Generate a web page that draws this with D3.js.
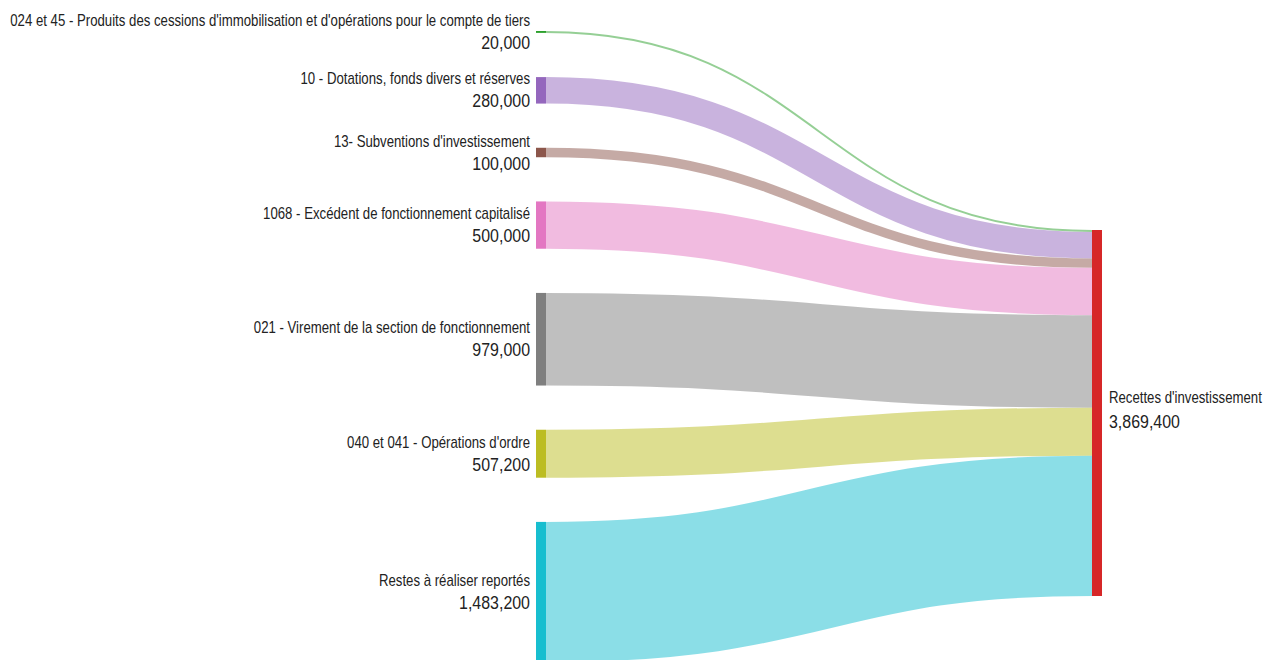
<!DOCTYPE html>
<html>
<head>
<meta charset="utf-8">
<script src="https://cdn.jsdelivr.net/npm/d3@7"></script>
<style>
  body { margin: 0; background: #fff; }
  text { font-family: "Liberation Sans", Arial, sans-serif; fill: #222; }
</style>
</head>
<body>
<div id="root"></div>
<script>
// Sources of the "Recettes d'investissement" budget
const sourceNames = [
  "024 et 45 - Produits des cessions d'immobilisation et d'opérations pour le compte de tiers",
  "10 - Dotations, fonds divers et réserves",
  "13- Subventions d'investissement",
  "1068 - Excédent de fonctionnement capitalisé",
  "021 - Virement de la section de fonctionnement",
  "040 et 041 - Opérations d'ordre",
  "Restes à réaliser reportés"
];
const sourceValues = [20000, 280000, 100000, 500000, 979000, 507200, 1483200];
const sourceColors = ["#2ca02c", "#9467bd", "#8c564b", "#e377c2", "#7f7f7f", "#bcbd22", "#17becf"];

const targetName = "Recettes d'investissement";
const targetColor = "#d62728";

const width = 1270;
const height = 660;

// layout
const leftX = 536;
const rightX = 1092;
const nodeWidth = 10;
const leftTop = 31;
const nodeGap = 44.2;
const rightTop = 230;
const total = d3.sum(sourceValues);

// the original uses a narrow font, emulate it by squeezing the text
const nameSqueeze = 0.825;
const valueSqueeze = 0.84;

const fmt = d3.format(",");

const yScale = d3.scaleLinear().domain([0, total]).range([0, 366]);

// build the nodes and links from the arrays
let yCursor = leftTop;
let tCursor = rightTop;
const sources = sourceNames.map((name, i) => {
  const h = yScale(sourceValues[i]);
  const node = {
    name,
    value: sourceValues[i],
    color: sourceColors[i],
    y0: yCursor,
    y1: yCursor + h,
    ty0: tCursor,
    ty1: tCursor + h
  };
  yCursor += h + nodeGap;
  tCursor += h;
  return node;
});
const target = { name: targetName, value: total, color: targetColor, y0: rightTop, y1: rightTop + yScale(total) };

const svg = d3
  .select("#root")
  .append("svg")
  .attr("width", width)
  .attr("height", height);

const link = d3
  .linkHorizontal()
  .source((d) => [leftX + nodeWidth, (d.y0 + d.y1) / 2])
  .target((d) => [rightX, (d.ty0 + d.ty1) / 2]);

svg
  .append("g")
  .attr("fill", "none")
  .selectAll("path")
  .data(sources)
  .join("path")
  .attr("d", link)
  .attr("stroke", (d) => d.color)
  .attr("stroke-opacity", 0.5)
  .attr("stroke-width", (d) => Math.max(1, d.y1 - d.y0));

svg
  .append("g")
  .selectAll("rect")
  .data(sources)
  .join("rect")
  .attr("x", leftX)
  .attr("y", (d) => d.y0)
  .attr("width", nodeWidth)
  .attr("height", (d) => Math.max(1, d.y1 - d.y0))
  .attr("fill", (d) => d.color);

svg
  .append("rect")
  .attr("x", rightX)
  .attr("y", target.y0)
  .attr("width", nodeWidth)
  .attr("height", target.y1 - target.y0)
  .attr("fill", target.color);

// labels
const leftLabels = svg
  .append("g")
  .attr("text-anchor", "end")
  .selectAll("g")
  .data(sources)
  .join("g")
  .attr("transform", (d) => `translate(${leftX - 6}, ${(d.y0 + d.y1) / 2})`);

leftLabels
  .append("text")
  .attr("transform", `translate(0, -6) scale(${nameSqueeze}, 1)`)
  .attr("font-size", 16)
  .text((d) => d.name);

leftLabels
  .append("text")
  .attr("transform", `translate(0, 17) scale(${valueSqueeze}, 1)`)
  .attr("font-size", 19)
  .text((d) => fmt(d.value));

const rightLabel = svg
  .append("g")
  .attr("transform", `translate(${rightX + nodeWidth + 7}, ${(target.y0 + target.y1) / 2})`);

rightLabel
  .append("text")
  .attr("transform", `translate(0, -10) scale(${nameSqueeze}, 1)`)
  .attr("font-size", 16)
  .text(target.name);

rightLabel
  .append("text")
  .attr("transform", `translate(0, 15) scale(${valueSqueeze}, 1)`)
  .attr("font-size", 19)
  .text(fmt(target.value));
</script>
</body>
</html>
